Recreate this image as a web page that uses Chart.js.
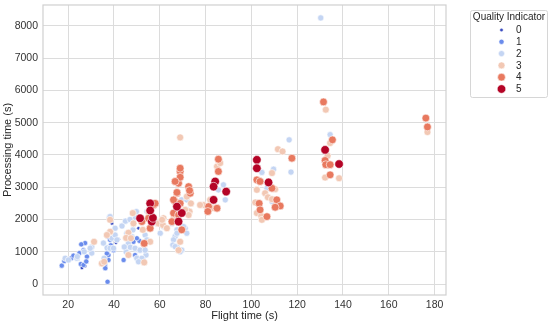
<!DOCTYPE html>
<html>
<head>
<meta charset="utf-8">
<script src="https://cdn.jsdelivr.net/npm/chart.js@4/dist/chart.umd.min.js"></script>
<style>
  html, body { margin: 0; padding: 0; background: #fff; }
  #wrap { width: 550px; height: 327px; position: relative; }
</style>
</head>
<body>
<div id="wrap"><canvas id="c"></canvas></div>
<script>
// quality indicator levels
const qualityLevels = ['0', '1', '2', '3', '4', '5'];
const qualityColors = ['#3b4cc0', '#6a8cec', '#c4d5f3', '#f2c8b4', '#e8795f', '#b40426'];
const qualityRadius = [1.8, 2.6, 3.1, 3.5, 3.9, 4.3];

// flight time (s) / processing time (s), one pair of arrays per level
const flightQ0 = [26, 26.4, 27.4, 37, 36.6, 40.9, 42, 50.7, 50, 39.1, 24.4, 50];
const procQ0 = [500, 1230, 560, 800, 500, 1280, 1390, 1730, 2245, 1880, 775, 850];

const flightQ1 = [17.2, 18.3, 21.3, 22.3, 25.5, 26.7, 27.4, 26.7, 28.2, 27.9, 25.7, 24.9, 36.1, 37.6, 38.3, 37.3,
  37.2, 36.2, 37.6, 36.9, 44.2, 49.2, 51.1, 51.7, 52.9, 48.5, 50, 39.8, 35.4, 38.6];
const procQ1 = [570, 715, 800, 880, 620, 590, 1270, 1050, 850, 700, 1230, 960, 590, 900, 1370, 1470,
  70, 490, 745, 950, 745, 900, 1340, 800, 745, 1310, 1420, 1050, 1260, 1200];

const flightQ2 = [18.7, 20.1, 23.8, 24, 30.3, 30.3, 29.6, 27, 35.4, 37, 38.3, 39.8, 38, 38.3, 39.1, 40.5, 41.3,
  40.5, 35.7, 45.3, 46.3, 47.1, 48.3, 50, 50.7, 53.6, 54, 54.4, 45.6, 47.8, 49.2, 51.4, 52.2, 50.7, 53.6,
  49.8, 54.4, 49.2, 58.7, 60.2, 61.6, 56.5, 67.5, 66.7, 66, 65.7, 67.5, 71.1, 71.8, 69.6, 69.6, 71.8, 65.3,
  70.4, 71.8, 67.5, 66.7, 68.9, 87.8, 88.6, 80.6, 85.6, 104.6, 109.7, 117.3, 116.5, 106.8, 109, 134.4, 130.3,
  43.5, 45, 47, 44.5];
const procQ2 = [800, 745, 800, 850, 1150, 960, 1110, 1000, 1270, 1120, 1110, 1110, 2070, 2090, 1420, 1520, 1370,
  1730, 800, 1000, 1260, 1140, 1680, 800, 1060, 1520, 900, 1370, 1575, 1470, 1110, 1050, 800, 690, 1050,
  2245, 2245, 2040, 1880, 1575, 1780, 1880, 1680, 1470, 1370, 1210, 1160, 1730, 2300, 1050, 2610, 2610, 1880,
  1780, 1575, 1575, 1160, 1000, 3075, 2610, 2300, 2920, 3460, 3560, 3470, 4470, 2970, 2560, 4630, 8250,
  1800, 1950, 2000, 1150];

const flightQ3 = [31.3, 34.7, 35.7, 38.3, 36.9, 38.3, 46.3, 45.3, 47.4, 48.5, 52.6, 55.1, 59.4, 61.4, 61.6, 46.3,
  53.2, 55.8, 48.2, 63.1, 61, 68.2, 73, 71.8, 73.6, 68.9, 66, 71.1, 72.6, 68.9, 82, 82.7, 79.1, 77.6, 85,
  86.4, 111.6, 113.6, 109, 110.4, 102.4, 106, 107.2, 109, 101.7, 102.4, 104.3, 104.6, 132.5, 134.4, 133.3,
  132.2, 138.3, 176.9];
const procQ3 = [1310, 640, 690, 1620, 1520, 1990, 1590, 1430, 1420, 1880, 1680, 2245, 1880, 1830, 2040, 900,
  670, 1310, 2200, 1730, 1990, 1050, 2245, 2710, 2500, 4545, 2040, 2300, 2140, 1310, 2610, 2350, 2450, 2450, 3645,
  3750, 4180, 4110, 3440, 2940, 2920, 2815, 2690, 2630, 2530, 2200, 2110, 1990, 5405, 4370, 3975,
  3300, 3280, 4710];

const flightQ4 = [53.2, 52.2, 57.3, 58, 55.8, 55.1, 65.3, 66, 66.7, 67.5, 68.2, 68.9, 68.9, 69.6, 72.6, 73.3,
  68.9, 68.9, 66.7, 73, 66, 68.2, 67.5, 85.6, 85.6, 85, 81.3, 81, 117.7, 102.4, 103.8, 109, 111.1, 112.6,
  110.4, 103.4, 103.8, 106.8, 131.5, 135.4, 132.2, 132.5, 134.4, 134.4, 176.2, 176.9];
const procQ4 = [1260, 1935, 2450, 2500, 1730, 2040, 1935, 2200, 2555, 2815, 3125, 3490, 2500, 1680, 3020, 2815,
  3590, 3310, 3180, 2900, 2610, 2140, 2840, 3870, 3490, 2350, 2400, 2250, 3900, 3230, 3180, 2970, 2610, 2420,
  2380, 2500, 2300, 2090, 5645, 4470, 3830, 3700, 3700, 3385, 5145, 4870];

const flightQ5 = [51.4, 55.8, 56.5, 69.6, 68.2, 67.5, 57, 55.8, 84.2, 83.5, 89, 83.5, 102.4, 102.4, 107.5, 132.2, 138.3];
const procQ5 = [2040, 2500, 1935, 2200, 1935, 2400, 2050, 2280, 3180, 3020, 2865, 2610, 3850, 3590, 3150, 4160, 3720];

const xTicks = [20, 40, 60, 80, 100, 120, 140, 160, 180];
const yTicks = [0, 1000, 2000, 3000, 4000, 5000, 6000, 7000, 8000];

const flights = [flightQ0, flightQ1, flightQ2, flightQ3, flightQ4, flightQ5];
const procs = [procQ0, procQ1, procQ2, procQ3, procQ4, procQ5];

const datasets = qualityLevels.map((q, i) => ({
  label: q,
  data: flights[i].map((x, k) => ({ x: x, y: procs[i][k] })),
  backgroundColor: qualityColors[i],
  borderColor: '#ffffff',
  borderWidth: 0.6,
  pointRadius: qualityRadius[i],
  pointHoverRadius: qualityRadius[i],
  order: 5 - i
}));

const frameAndLegend = {
  id: 'frameAndLegend',
  beforeDatasetsDraw(chart) {
    const { ctx, chartArea: a } = chart;
    ctx.save();
    ctx.strokeStyle = '#d0d0d0';
    ctx.lineWidth = 1.2;
    ctx.strokeRect(a.left, a.top, a.right - a.left, a.bottom - a.top);
    ctx.restore();
  },
  afterDraw(chart) {
    const ctx = chart.ctx;
    ctx.save();
    // legend box
    ctx.fillStyle = '#ffffff';
    ctx.strokeStyle = '#d6d6d6';
    ctx.lineWidth = 1;
    ctx.beginPath();
    ctx.roundRect(470.5, 10.5, 77, 87, 2);
    ctx.fill();
    ctx.stroke();
    ctx.fillStyle = '#262626';
    ctx.font = '10px "Liberation Sans", Arial, sans-serif';
    ctx.textAlign = 'center';
    ctx.textBaseline = 'middle';
    ctx.fillText('Quality Indicator', 509, 17.5);
    ctx.textAlign = 'left';
    qualityLevels.forEach((q, i) => {
      const y = 30 + i * 11.8;
      ctx.beginPath();
      ctx.arc(501.5, y, qualityRadius[i], 0, Math.PI * 2);
      ctx.fillStyle = qualityColors[i];
      ctx.fill();
      ctx.strokeStyle = '#ffffff';
      ctx.lineWidth = 0.6;
      ctx.stroke();
      ctx.fillStyle = '#262626';
      ctx.fillText(q, 516, y + 0.5);
    });
    ctx.restore();
  }
};

const tickFont = { family: '"Liberation Sans", Arial, sans-serif', size: 10.5 };
const titleFont = { family: '"Liberation Sans", Arial, sans-serif', size: 11 };

new Chart(document.getElementById('c'), {
  type: 'scatter',
  data: { datasets: datasets },
  options: {
    responsive: true,
    maintainAspectRatio: false,
    animation: false,
    layout: { padding: { top: 5, right: 104, left: 0, bottom: 0 } },
    plugins: { legend: { display: false }, tooltip: { enabled: false } },
    scales: {
      x: {
        type: 'linear',
        min: 9,
        max: 185,
        afterFit: s => { s.height = 32; s.paddingLeft = 0; s.paddingRight = 0; },
        afterBuildTicks: s => { s.ticks = xTicks.map(v => ({ value: v })); },
        ticks: { font: tickFont, color: '#333333', padding: 4 },
        grid: { color: '#dcdcdc', lineWidth: 1, drawTicks: false },
        border: { display: false },
        title: { display: true, text: 'Flight time (s)', font: titleFont, color: '#262626', padding: { top: 0, bottom: 4 } }
      },
      y: {
        type: 'linear',
        min: -340,
        max: 8650,
        afterFit: s => { s.width = 43; s.paddingTop = 0; s.paddingBottom = 0; },
        afterBuildTicks: s => { s.ticks = yTicks.map(v => ({ value: v })); },
        ticks: { font: tickFont, color: '#333333', padding: 5, callback: v => String(v) },
        grid: { color: '#dcdcdc', lineWidth: 1, drawTicks: false },
        border: { display: false },
        title: { display: true, text: 'Processing time (s)', font: titleFont, color: '#262626', padding: { top: 1, bottom: 0 } }
      }
    }
  },
  plugins: [frameAndLegend]
});
</script>
</body>
</html>
